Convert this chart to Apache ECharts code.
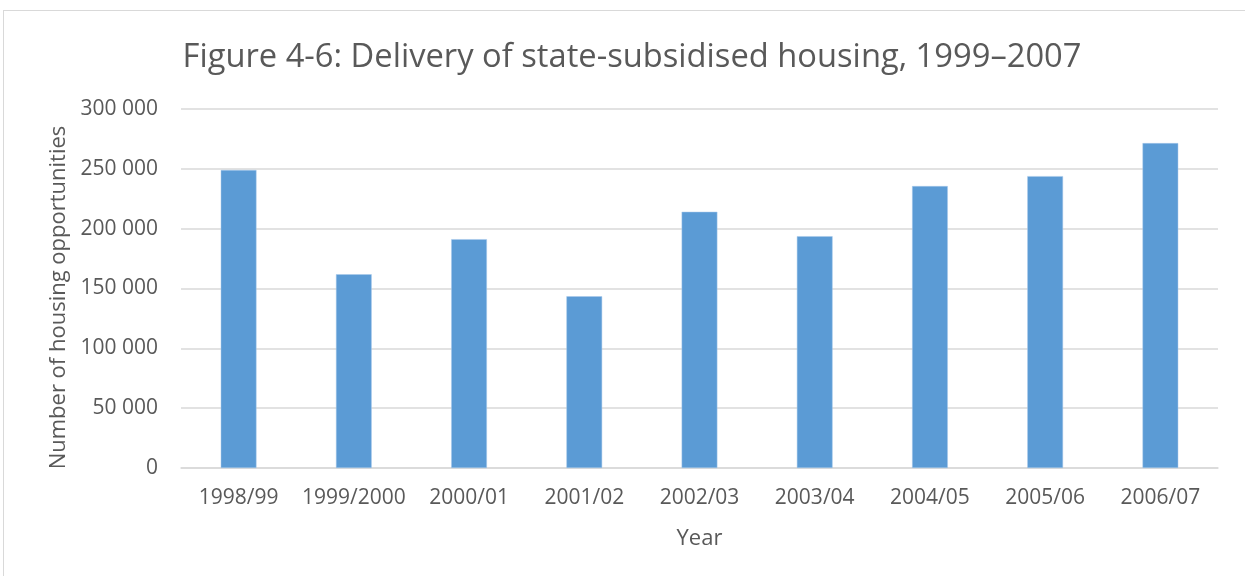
<!DOCTYPE html>
<html>
<head>
<meta charset="utf-8">
<title>Delivery of state-subsidised housing</title>
<script src="https://cdn.jsdelivr.net/npm/echarts@6/dist/echarts.min.js"></script>
<style>
  html, body { margin: 0; padding: 0; background: #fff; }
  #frame { position: absolute; left: 3px; top: 10px; width: 1300px; height: 700px; border: 1px solid #d9d9d9; box-sizing: border-box; }
  #chart { position: absolute; left: 0; top: 0; width: 1245px; height: 576px; }
</style>
</head>
<body>
<div id="frame"></div>
<div id="chart"></div>
<script>
// financial years
const years = ['1998/99', '1999/2000', '2000/01', '2001/02', '2002/03', '2003/04', '2004/05', '2005/06', '2006/07'];
// housing opportunities delivered
const delivered = [249000, 161900, 191200, 143500, 214100, 193700, 235600, 243900, 271500];

const textColor = '#595959';
const fontFamily = 'Open Sans, sans-serif';

const chart = echarts.init(document.getElementById('chart'));

// thousands with a space, like the original
const fmt = v => String(v).replace(/\B(?=(\d{3})+(?!\d))/g, ' ');

chart.setOption({
  animation: false,
  title: {
    text: 'Figure 4-6: Delivery of state-subsidised housing, 1999\u20132007',
    left: 627,
    textAlign: 'center',
    top: 36,
    textStyle: { fontFamily, fontSize: 32.7, fontWeight: 'normal', color: textColor }
  },
  grid: { left: 181, right: 27, top: 109, bottom: 108 },
  xAxis: {
    type: 'category',
    data: years,
    name: 'Year',
    nameLocation: 'middle',
    nameGap: 60,
    nameTextStyle: { fontFamily, fontSize: 22, color: textColor },
    axisLine: { lineStyle: { color: '#d9d9d9', width: 1.5 } },
    axisTick: { show: false },
    axisLabel: { fontFamily, fontSize: 21, color: textColor, margin: 20, interval: 0 }
  },
  yAxis: {
    type: 'value',
    min: 0,
    max: 300000,
    interval: 50000,
    name: 'Number of housing opportunities',
    nameLocation: 'middle',
    nameGap: 110,
    nameTextStyle: { fontFamily, fontSize: 22, color: textColor, padding: [0, 18, 0, 0] },
    axisLine: { show: false },
    axisTick: { show: false },
    axisLabel: { fontFamily, fontSize: 21, color: textColor, margin: 23, formatter: fmt },
    splitLine: { lineStyle: { color: '#d9d9d9', width: 1.5 } }
  },
  series: [{
    type: 'bar',
    data: delivered,
    barWidth: '31%',
    itemStyle: { color: '#5b9bd5', borderColor: '#a9c9ea', borderWidth: 0.5 }
  }]
});
</script>
</body>
</html>
